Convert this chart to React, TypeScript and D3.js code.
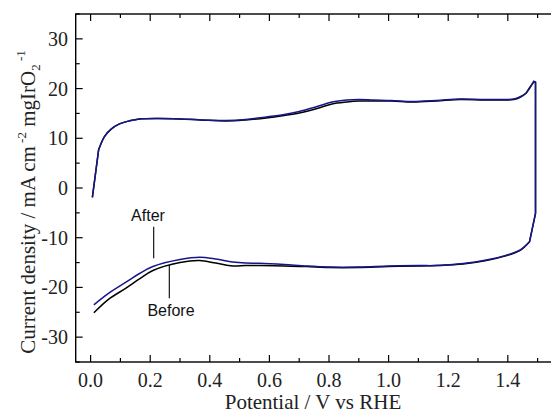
import React, { useEffect, useRef } from "react";
import * as d3 from "d3";

// ---- data ----
// forward (anodic) scan
const fwdPotential = [0.006, 0.027, 0.047, 0.07, 0.097, 0.13, 0.164, 0.23, 0.3, 0.37, 0.455, 0.52, 0.59, 0.65, 0.7, 0.76, 0.81, 0.86, 0.9, 0.95, 1.01, 1.08, 1.16, 1.24, 1.32, 1.395, 1.42, 1.44, 1.46, 1.473, 1.487];
const fwdAfter = [-1.9, 7.7, 10.4, 11.9, 12.9, 13.5, 13.9, 14.0, 13.9, 13.7, 13.6, 13.8, 14.3, 14.8, 15.4, 16.4, 17.3, 17.7, 17.8, 17.7, 17.6, 17.4, 17.6, 17.9, 17.8, 17.8, 17.9, 18.3, 19.0, 20.0, 21.5];
const fwdBefore = [-1.9, 7.7, 10.4, 11.9, 12.9, 13.5, 13.9, 14.0, 13.9, 13.7, 13.5, 13.7, 14.1, 14.6, 15.1, 16.0, 16.9, 17.3, 17.5, 17.5, 17.5, 17.3, 17.5, 17.8, 17.7, 17.7, 17.8, 18.2, 19.0, 20.2, 21.3];
// reverse (cathodic) scan
const revPotential = [1.493, 1.493, 1.473, 1.44, 1.39, 1.328, 1.25, 1.16, 1.1, 1.0, 0.9, 0.8, 0.724, 0.65, 0.567, 0.52, 0.477, 0.42, 0.366, 0.3, 0.209, 0.164, 0.12, 0.06, 0.011];
const revAfter = [21.3, -5.1, -10.8, -12.5, -13.6, -14.5, -15.2, -15.6, -15.6, -15.7, -15.9, -15.9, -15.7, -15.4, -15.15, -15.1, -14.9, -14.3, -13.95, -14.4, -15.8, -17.2, -18.9, -21.2, -23.5];
const revBefore = [21.3, -5.1, -10.8, -12.6, -13.7, -14.6, -15.3, -15.6, -15.7, -15.8, -16.0, -16.0, -15.8, -15.7, -15.6, -15.6, -15.7, -15.1, -14.6, -15.0, -16.6, -18.3, -20.1, -22.4, -25.1];

const xTicks = [0, 0.2, 0.4, 0.6, 0.8, 1.0, 1.2, 1.4];
const yTicks = [-30, -20, -10, 0, 10, 20, 30];

function App() {
  const ref = useRef<SVGSVGElement>(null);

  useEffect(() => {
    const svg = d3.select(ref.current);
    svg.selectAll("*").remove();

    const margin = { top: 14, left: 75.7 };
    const xScale = d3.scaleLinear().domain([-0.05, 1.55]).range([margin.left, margin.left + 476.8]);
    const yScale = d3.scaleLinear().domain([-35, 35]).range([362, margin.top]);

    const serif = "'Liberation Serif', 'Times New Roman', serif";
    const sans = "'Liberation Sans', Arial, sans-serif";

    const toPoints = (xs: number[], ys: number[]) => xs.map((x, i) => [x, ys[i]] as [number, number]);
    const smooth = d3
      .line<[number, number]>()
      .x((d) => xScale(d[0]))
      .y((d) => yScale(d[1]))
      .curve(d3.curveCatmullRom.alpha(0.5));
    const straight = d3
      .line<[number, number]>()
      .x((d) => xScale(d[0]))
      .y((d) => yScale(d[1]));

    const series = [
      { fwd: toPoints(fwdPotential, fwdBefore), rev: toPoints(revPotential, revBefore), color: "#000000" },
      { fwd: toPoints(fwdPotential, fwdAfter), rev: toPoints(revPotential, revAfter), color: "#16168a" },
    ];

    series.forEach((s) => {
      // sharp corners at the start and at the switching point, smooth elsewhere
      const path =
        straight(s.fwd.slice(0, 2)) +
        smooth(s.fwd.slice(1)).replace(/^M/, "L") +
        straight(s.rev.slice(0, 3)).replace(/^M/, "L") +
        smooth(s.rev.slice(2)).replace(/^M/, "L");
      svg
        .append("path")
        .attr("d", path)
        .attr("fill", "none")
        .attr("stroke", s.color)
        .attr("stroke-width", 1.5)
        .attr("stroke-linejoin", "round");
    });

    // ---- frame + ticks ----
    const [x0, x1] = xScale.range();
    const [y0, y1] = yScale.range();
    svg
      .append("rect")
      .attr("x", x0)
      .attr("y", y1)
      .attr("width", x1 - x0)
      .attr("height", y0 - y1)
      .attr("fill", "none")
      .attr("stroke", "#000")
      .attr("stroke-width", 1.4);

    const ticks = svg.append("g").attr("stroke", "#000").attr("stroke-width", 1.2);
    d3.range(0, 1.51, 0.1).forEach((v, i) => {
      const len = i % 2 === 0 ? 7 : 4;
      const x = xScale(v);
      ticks.append("line").attr("x1", x).attr("x2", x).attr("y1", y0).attr("y2", y0 - len);
      ticks.append("line").attr("x1", x).attr("x2", x).attr("y1", y1).attr("y2", y1 + len);
    });
    d3.range(-35, 35.1, 5).forEach((v) => {
      const major = v % 10 === 0;
      const y = yScale(v);
      ticks.append("line").attr("x1", x0).attr("x2", x0 + (major ? 7 : 4)).attr("y1", y).attr("y2", y);
    });

    svg
      .append("g")
      .selectAll("text")
      .data(xTicks)
      .join("text")
      .attr("x", (d) => xScale(d))
      .attr("y", 387)
      .attr("text-anchor", "middle")
      .attr("font-family", serif)
      .attr("font-size", 20)
      .attr("fill", "#222")
      .text((d) => d.toFixed(1));

    svg
      .append("g")
      .selectAll("text")
      .data(yTicks)
      .join("text")
      .attr("x", 68)
      .attr("y", (d) => yScale(d))
      .attr("dy", "0.35em")
      .attr("text-anchor", "end")
      .attr("font-family", serif)
      .attr("font-size", 20)
      .attr("fill", "#222")
      .text((d) => String(d));

    // ---- axis titles ----
    svg
      .append("text")
      .attr("x", 313)
      .attr("y", 409)
      .attr("text-anchor", "middle")
      .attr("font-family", serif)
      .attr("font-size", 21)
      .attr("fill", "#222")
      .text("Potential / V vs RHE");

    const yt = svg
      .append("text")
      .attr("transform", "translate(35,202) rotate(-90)")
      .attr("text-anchor", "middle")
      .attr("font-family", serif)
      .attr("font-size", 21)
      .attr("fill", "#222");
    yt.append("tspan").text("Current density / mA cm");
    yt.append("tspan").attr("font-size", 13).attr("dy", -9).text(" -2");
    yt.append("tspan").attr("dy", 9).text(" mgIrO");
    yt.append("tspan").attr("font-size", 13).attr("dy", 5).text("2");
    yt.append("tspan").attr("font-size", 13).attr("dy", -15).text(" -1");

    // ---- annotations ----
    const ann = [
      { label: "After", tx: 148, ty: 221, lx: 153.7, ly1: 226.7, ly2: 258.3 },
      { label: "Before", tx: 171, ty: 316, lx: 169.3, ly1: 265, ly2: 298.3 },
    ];
    ann.forEach((a) => {
      svg
        .append("line")
        .attr("x1", a.lx)
        .attr("x2", a.lx)
        .attr("y1", a.ly1)
        .attr("y2", a.ly2)
        .attr("stroke", "#000")
        .attr("stroke-width", 1.1);
      svg
        .append("text")
        .attr("x", a.tx)
        .attr("y", a.ty)
        .attr("text-anchor", "middle")
        .attr("font-family", sans)
        .attr("font-size", 16)
        .attr("fill", "#111")
        .text(a.label);
    });
  }, []);

  return (
    <svg
      ref={ref}
      width={551}
      height={417}
      style={{ position: "absolute", left: 0, top: 0, background: "#fff" }}
    />
  );
}

export default App;
